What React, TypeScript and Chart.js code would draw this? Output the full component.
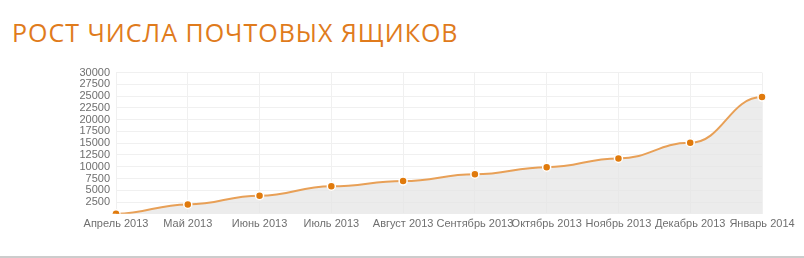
import React, { useEffect, useRef } from "react";
import { Chart, registerables } from "chart.js";

Chart.register(...registerables);

const months = [
  "Апрель 2013",
  "Май 2013",
  "Июнь 2013",
  "Июль 2013",
  "Август 2013",
  "Сентябрь 2013",
  "Октябрь 2013",
  "Ноябрь 2013",
  "Декабрь 2013",
  "Январь 2014",
];

const mailboxes = [0, 2000, 3850, 5850, 6950, 8400, 9900, 11750, 15100, 24800];

const yMax = 30000;
const yStep = 2500;

const tickFont = { family: "'Liberation Sans', Arial, sans-serif", size: 11 };

// Curve through each point with a level tangent, so every segment
// between two months is a gentle S-shape.
const flatTangents = {
  id: "flatTangents",
  afterDatasetUpdate(chart: any, args: any) {
    const meta = args.meta;
    const pts = meta.data;
    const k = 0.45;
    for (let i = 0; i < pts.length; i++) {
      const p = pts[i];
      const prev = pts[i - 1];
      const next = pts[i + 1];
      p.cp1x = prev ? p.x - (p.x - prev.x) * k : p.x;
      p.cp1y = p.y;
      p.cp2x = next ? p.x + (next.x - p.x) * k : p.x;
      p.cp2y = p.y;
    }
    if (meta.dataset) meta.dataset._pointsUpdated = true;
  },
};

export default function App() {
  const canvasRef = useRef<HTMLCanvasElement | null>(null);

  useEffect(() => {
    const ctx = canvasRef.current;
    if (!ctx) return;
    const chart = new Chart(ctx, {
      type: "line",
      data: {
        labels: months,
        datasets: [
          {
            data: mailboxes,
            borderColor: "#e8a057",
            borderWidth: 2,
            backgroundColor: "rgba(228,228,228,0.7)",
            fill: "origin",
            tension: 0.4,
            pointRadius: 4,
            pointBorderWidth: 1.5,
            pointBackgroundColor: "#e07a0c",
            pointBorderColor: "#ffffff",
          },
        ],
      },
      plugins: [flatTangents],
      options: {
        animation: false,
        responsive: false,
        maintainAspectRatio: false,
        layout: { padding: { top: 6, right: 42, bottom: 0, left: 0 } },
        plugins: { legend: { display: false }, tooltip: { enabled: false } },
        scales: {
          x: {
            offset: false,
            grid: { color: "#f0f0f0", drawTicks: false },
            border: { display: false },
            ticks: {
              color: "#6f6f6f",
              font: tickFont,
              padding: 4,
              maxRotation: 0,
              autoSkip: false,
            },
          },
          y: {
            min: 0,
            max: yMax,
            afterFit: (scale: any) => {
              scale.width = 116;
            },
            grid: { color: "#f0f0f0", drawTicks: false },
            border: { display: false },
            ticks: {
              stepSize: yStep,
              autoSkip: false,
              color: "#6f6f6f",
              font: tickFont,
              padding: 6,
              callback: (v: any) => (v === 0 ? "" : String(v)),
            },
          },
        },
      },
    });
    return () => chart.destroy();
  }, []);

  return (
    <div
      style={{
        position: "fixed",
        left: 0,
        top: 0,
        width: 804,
        height: 258,
        background: "#fff",
        overflow: "hidden",
      }}
    >
      <div
        style={{
          position: "absolute",
          left: 12,
          top: 14,
          fontFamily: "'Open Sans', 'Noto Sans', sans-serif",
          fontSize: 25,
          letterSpacing: 1,
          color: "#e07b1c",
          whiteSpace: "nowrap",
          lineHeight: "36px",
        }}
      >
        РОСТ ЧИСЛА ПОЧТОВЫХ ЯЩИКОВ
      </div>
      <canvas
        ref={canvasRef}
        width={804}
        height={175}
        style={{ position: "absolute", left: 0, top: 60, width: 804, height: 175 }}
      />
      <div
        style={{
          position: "absolute",
          left: 0,
          top: 256,
          width: 804,
          height: 2,
          background: "#cccccc",
        }}
      />
    </div>
  );
}
